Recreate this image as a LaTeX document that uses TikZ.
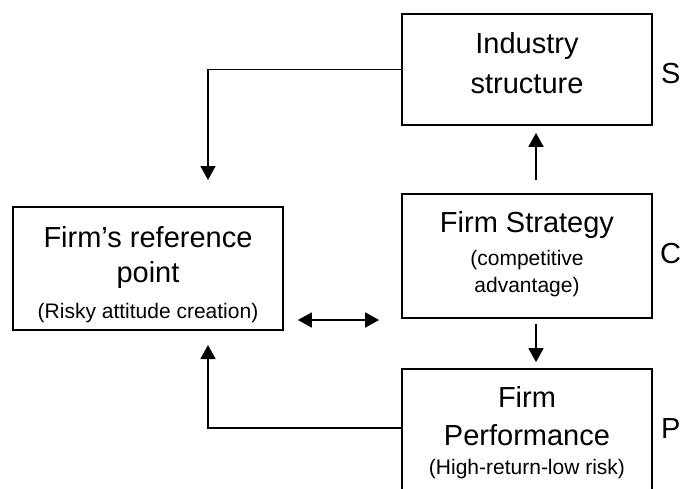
\documentclass[tikz,border=0pt]{standalone}
\usepackage{fontspec}
\setmainfont{Liberation Sans}
\usetikzlibrary{arrows.meta}
\begin{document}
\begin{tikzpicture}[x=1pt, y=-1pt,
  box/.style={shape=rectangle, draw=black, line width=1.7pt, inner sep=0pt},
  big/.style={anchor=base, inner sep=0pt, font=\fontsize{29}{35}\selectfont},
  small/.style={anchor=base, inner sep=0pt, font=\fontsize{21}{25}\selectfont},
  flow/.style={line width=1.7pt, -{Triangle[width=15pt,length=14pt]}},
  flowboth/.style={line width=1.7pt, {Triangle[width=15pt,length=14pt]}-{Triangle[width=15pt,length=14pt]}}]
\useasboundingbox (0,0) rectangle (681,488);
% boxes
\node[box, minimum width=250pt, minimum height=111pt] (industry) at (527,69.5) {};
\node[box, minimum width=250pt, minimum height=124pt] (strategy) at (527,256) {};
\node[box, minimum width=270pt, minimum height=123pt] (refpoint) at (148,268.5) {};
\node[box, minimum width=250pt, minimum height=126pt] (perf) at (527,432) {};
% box texts
\node[big] (t1) at (527,53) {Industry};
\node[big] (t2) at (527,93) {structure};
\node[big] (t3) at (527,232) {Firm Strategy};
\node[small] (t4) at (527,265) {(competitive};
\node[small] (t5) at (527,292) {advantage)};
\node[big] (t6) at (148,247) {Firm’s reference};
\node[big] (t7) at (148,282) {point};
\node[small] (t8) at (148,318) {(Risky attitude creation)};
\node[big] (t9) at (527,407) {Firm};
\node[big] (t10) at (527,445) {Performance};
\node[small] (t11) at (527,474) {(High-return-low risk)};
% side letters
\node[big, anchor=base west] (S) at (661,83) {S};
\node[big, anchor=base west] (C) at (660,263) {C};
\node[big, anchor=base west] (P) at (661,438) {P};
% free arrow ends
\coordinate (refin) at (208,180);
\coordinate (refup) at (208,345);
% connectors
\draw[flow] (industry.west) -| (refin);
\draw[flow, shorten <=13pt, shorten >=7pt] ([xshift=9pt]strategy.north) -- ([xshift=9pt]industry.south);
\draw[flow, shorten <=5pt, shorten >=6pt] ([xshift=9pt]strategy.south) -- ([xshift=9pt]perf.north);
\draw[flowboth, shorten <=14pt, shorten >=22pt] ([yshift=-51.5pt]refpoint.east) -- ([yshift=-51.5pt]refpoint.east -| strategy.west);
\draw[flow] ([yshift=4pt]perf.west) -| (refup);
\end{tikzpicture}
\end{document}
